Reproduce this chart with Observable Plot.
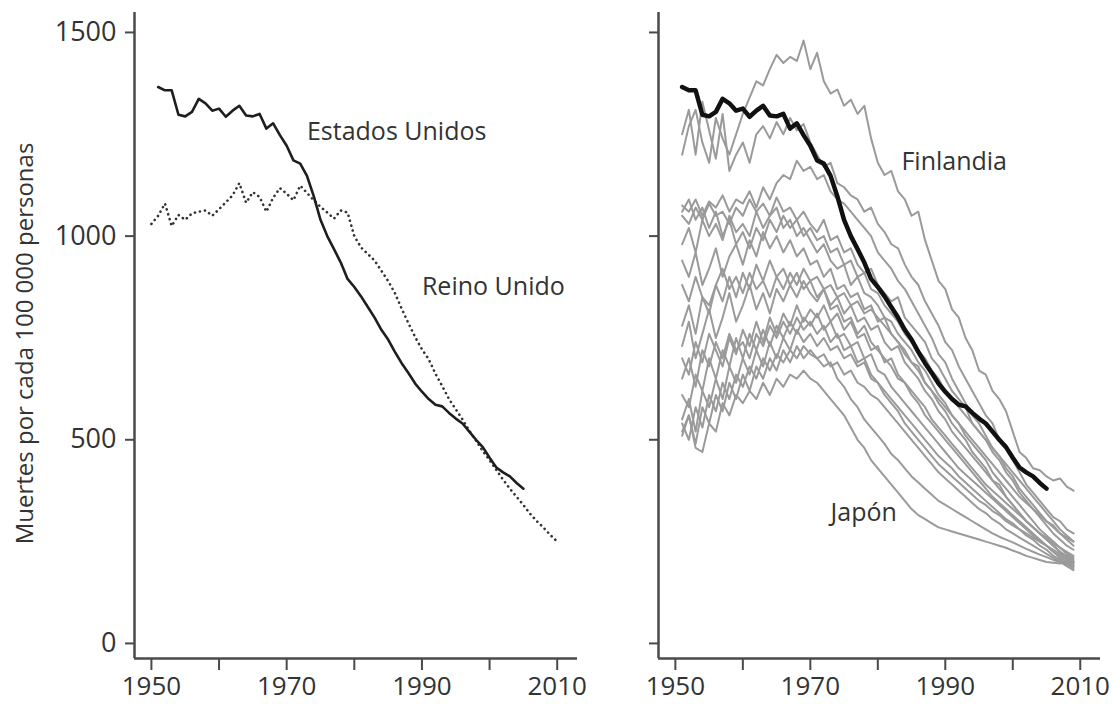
<!DOCTYPE html>
<html>
<head>
<meta charset="utf-8">
<script src="https://cdn.jsdelivr.net/npm/d3@7"></script>
<script src="https://cdn.jsdelivr.net/npm/@observablehq/plot@0.6"></script>
<style>
  html, body { margin: 0; padding: 0; background: #fff; }
  #wrap { position: relative; width: 1112px; height: 704px; overflow: hidden; }
  #wrap svg { position: absolute; left: 0; top: 0; }
  g[aria-label="ytitle"] text { letter-spacing: 0.5px; }
</style>
</head>
<body>
<div id="wrap"></div>
<script>
// ---------- data ----------
const yTitle = "Muertes por cada 100 000 personas";
const yTicks = [0, 500, 1000, 1500];
const xTicks = [1950, 1960, 1970, 1980, 1990, 2000, 2010];
const xLabels = [1950, 1970, 1990, 2010];

const usYears = d3.range(1951, 2006);
const estadosUnidos = [1366, 1358, 1358, 1298, 1294, 1305, 1337, 1326, 1308, 1313,
  1293, 1308, 1320, 1296, 1294, 1300, 1264, 1277, 1248, 1222,
  1186, 1178, 1148, 1098, 1040, 1000, 968, 935, 895, 875,
  852, 826, 800, 770, 746, 716, 688, 664, 638, 618,
  600, 586, 582, 566, 552, 540, 520, 500, 482, 456,
  432, 420, 410, 394, 380];

const ukYears = d3.range(1950, 2011);
const reinoUnido = [1030, 1050, 1080, 1025, 1052, 1040, 1056, 1060, 1063, 1050,
  1066, 1083, 1100, 1130, 1082, 1108, 1096, 1060, 1094, 1118,
  1104, 1088, 1124, 1106, 1088, 1072, 1058, 1043, 1063, 1058,
  1000, 972, 956, 940, 915, 890, 860, 822, 786, 752,
  722, 698, 662, 632, 600, 575, 550, 522, 498, 472,
  450, 426, 402, 380, 360, 340, 318, 300, 284, 266, 250];

const grayYears = d3.range(1951, 2010);
const finlandia = [1200, 1270, 1310, 1230, 1180, 1290, 1240, 1200, 1250, 1300,
  1340, 1380, 1370, 1410, 1445, 1425, 1440, 1430, 1480, 1410,
  1450, 1380, 1350, 1360, 1320, 1335, 1300, 1320, 1240, 1180,
  1150, 1160, 1110, 1090, 1050, 1060, 990, 940, 890, 870,
  820, 800, 750, 720, 670, 660, 620, 600, 570, 520,
  470, 455, 430, 425, 410, 400, 405, 385, 375];
const japon = [510, 560, 480, 470, 540, 520, 590, 560, 610, 590,
  620, 600, 640, 610, 650, 630, 660, 650, 670, 650,
  640, 620, 600, 580, 560, 530, 500, 480, 450, 430,
  410, 390, 370, 350, 330, 315, 305, 295, 285, 280,
  275, 270, 265, 260, 255, 250, 245, 240, 235, 228,
  222, 215, 210, 205, 200, 198, 196, 200, 198];
const otrosPaises = [
  [1250, 1310, 1200, 1330, 1260, 1190, 1300, 1160, 1200, 1230,
   1180, 1250, 1270, 1240, 1280, 1250, 1290, 1260, 1275, 1230,
   1200, 1170, 1180, 1130, 1120, 1100, 1090, 1060, 1070, 1030,
   1010, 980, 970, 930, 900, 880, 840, 810, 780, 740,
   720, 680, 650, 620, 590, 560, 540, 500, 480, 450,
   420, 390, 370, 350, 330, 310, 300, 280, 270],
  [1075, 1060, 1090, 1050, 1085, 1070, 1100, 1060, 1090, 1080,
   1110, 1070, 1120, 1090, 1130, 1150, 1140, 1185, 1160, 1170,
   1140, 1150, 1110, 1090, 1080, 1060, 1040, 1020, 1000, 960,
   940, 920, 890, 870, 840, 810, 780, 750, 710, 690,
   650, 620, 590, 560, 540, 510, 480, 460, 430, 410,
   380, 360, 340, 320, 300, 290, 270, 260, 250],
  [1050, 1030, 1070, 1040, 1080, 1050, 1060, 1030, 1070, 1050,
   1090, 1060, 1080, 1050, 1095, 1060, 1070, 1040, 1060, 1030,
   1010, 1040, 990, 1000, 960, 970, 930, 910, 920, 880,
   860, 840, 850, 800, 780, 760, 740, 700, 680, 650,
   620, 600, 580, 540, 520, 500, 470, 450, 420, 400,
   370, 350, 330, 310, 290, 270, 255, 240, 230],
  [980, 1020, 960, 1040, 1000, 1030, 990, 1050, 1010, 1030,
   1000, 1060, 1020, 1050, 1070, 1020, 1040, 1000, 1020, 990,
   960, 980, 940, 920, 930, 880, 900, 860, 850, 830,
   800, 790, 760, 740, 720, 690, 670, 640, 610, 590,
   560, 540, 510, 490, 470, 450, 420, 400, 380, 360,
   340, 320, 300, 280, 265, 250, 235, 225, 215],
  [940, 900, 960, 880, 920, 970, 900, 950, 980, 930,
   990, 950, 1010, 970, 1000, 960, 990, 950, 970, 930,
   940, 900, 920, 870, 880, 850, 860, 820, 830, 790,
   800, 760, 740, 720, 690, 680, 640, 620, 590, 570,
   540, 520, 500, 470, 450, 430, 400, 390, 360, 340,
   320, 300, 285, 270, 255, 240, 225, 215, 205],
  [780, 830, 760, 850, 810, 880, 840, 900, 850, 910,
   870, 930, 890, 940, 900, 920, 880, 910, 870, 890,
   850, 870, 830, 850, 810, 830, 790, 800, 770, 780,
   740, 720, 730, 690, 670, 650, 620, 600, 570, 550,
   520, 500, 480, 460, 440, 420, 400, 380, 360, 340,
   320, 300, 285, 270, 255, 240, 225, 210, 200],
  [730, 790, 700, 760, 820, 750, 800, 860, 790, 830,
   880, 820, 860, 810, 870, 840, 880, 850, 890, 860,
   840, 870, 820, 830, 790, 800, 760, 780, 740, 720,
   700, 680, 650, 640, 610, 590, 560, 540, 520, 500,
   480, 460, 440, 420, 400, 380, 360, 345, 330, 315,
   300, 285, 270, 255, 240, 225, 210, 200, 190],
  [700, 660, 740, 690, 760, 720, 680, 750, 710, 770,
   730, 790, 740, 800, 760, 810, 780, 830, 790, 820,
   800, 830, 790, 810, 770, 790, 750, 760, 720, 730,
   690, 700, 660, 640, 620, 600, 580, 550, 530, 510,
   490, 470, 450, 430, 410, 390, 375, 360, 345, 330,
   315, 300, 285, 270, 260, 245, 235, 220, 210],
  [610, 580, 660, 620, 700, 650, 720, 680, 750, 700,
   760, 720, 770, 730, 780, 750, 790, 760, 800, 780,
   810, 770, 790, 750, 760, 730, 740, 700, 710, 670,
   660, 630, 610, 590, 570, 550, 530, 510, 490, 470,
   450, 430, 415, 400, 385, 370, 355, 340, 325, 310,
   295, 280, 265, 250, 240, 225, 215, 205, 195],
  [550, 600, 520, 620, 580, 650, 600, 680, 640, 700,
   660, 720, 680, 740, 700, 750, 720, 770, 740, 760,
   730, 750, 720, 730, 700, 710, 680, 690, 650, 640,
   620, 600, 580, 560, 540, 520, 500, 480, 460, 445,
   430, 410, 395, 380, 365, 350, 335, 320, 305, 295,
   280, 265, 255, 240, 230, 215, 205, 195, 185],
  [520, 560, 490, 580, 540, 610, 570, 640, 600, 660,
   620, 680, 650, 700, 670, 720, 690, 730, 700, 720,
   700, 710, 680, 690, 660, 670, 640, 630, 610, 600,
   580, 560, 540, 520, 500, 480, 460, 440, 420, 405,
   390, 375, 360, 345, 330, 320, 305, 295, 280, 270,
   260, 250, 240, 230, 220, 210, 200, 190, 180],
  [540, 500, 580, 530, 610, 570, 640, 600, 660, 630,
   680, 650, 700, 670, 710, 690, 720, 700, 730, 710,
   700, 680, 690, 650, 630, 600, 580, 550, 530, 510,
   490, 465, 450, 430, 410, 395, 380, 365, 350, 340,
   330, 320, 310, 300, 290, 280, 270, 262, 255, 248,
   240, 232, 225, 218, 212, 205, 200, 195, 190],
  [650, 700, 630, 720, 680, 740, 700, 760, 720, 740,
   700, 760, 730, 780, 750, 790, 760, 800, 770, 790,
   760, 780, 740, 760, 720, 730, 690, 700, 660, 640,
   610, 590, 570, 540, 520, 500, 480, 460, 440, 425,
   410, 395, 380, 365, 350, 340, 325, 315, 300, 290,
   280, 270, 260, 250, 240, 230, 220, 210, 200],
  [880, 840, 900, 850, 830, 880, 920, 870, 900, 860,
   910, 870, 890, 850, 900, 870, 910, 880, 920, 890,
   900, 870, 880, 850, 860, 830, 840, 810, 820, 800,
   780, 760, 740, 710, 690, 670, 640, 620, 600, 580,
   560, 540, 520, 500, 480, 460, 440, 420, 400, 380,
   360, 345, 330, 315, 300, 285, 270, 255, 240],
  [1060, 1090, 1040, 1070, 1020, 1060, 1000, 1040, 980, 1010,
   970, 1020, 990, 1040, 1010, 1050, 1020, 1040, 1000, 1020,
   990, 1000, 960, 970, 930, 940, 900, 910, 870, 860,
   830, 810, 790, 760, 740, 720, 700, 670, 650, 620,
   600, 580, 560, 540, 520, 500, 480, 460, 440, 420,
   400, 380, 360, 340, 320, 300, 280, 265, 250]
];

const etiquetasIzq = [
  {texto: "Estados Unidos", year: 1973.0, value: 1255},
  {texto: "Reino Unido", year: 1990.0, value: 874}
];
const etiquetasDer = [
  {texto: "Finlandia", year: 1983.5, value: 1181},
  {texto: "Japón", year: 1973.0, value: 319}
];

// ---------- tables ----------
const toRows = (years, vals, name) => vals.map((v, i) => ({year: years[i], value: v, name}));
const usRows = toRows(usYears, estadosUnidos, "Estados Unidos");
const ukRows = toRows(ukYears, reinoUnido, "Reino Unido");
const grayRows = [
  ...toRows(grayYears, finlandia, "Finlandia"),
  ...toRows(grayYears, japon, "Japón"),
  ...otrosPaises.flatMap((s, k) => toRows(grayYears, s, "p" + k))
];

// ---------- layout ----------
const W = 1112, H = 704;
const xDomain = [1947.5, 2013];
const yDomain = [-37, 1549];
const FONT = "'Open Sans', 'Noto Sans', sans-serif";
const axisColor = "#4a4a4a";
const textColor = "#333";

function panel(left, showY, marks) {
  return Plot.plot({
    width: W, height: H,
    marginLeft: left.ml, marginRight: left.mr, marginTop: 12, marginBottom: 46,
    x: {domain: xDomain},
    y: {domain: yDomain},
    style: {fontFamily: FONT, fontSize: "26px", background: "transparent", overflow: "visible"},
    marks: [
      Plot.axisY({ticks: yTicks, tickSize: 9, tickPadding: 9, stroke: axisColor, strokeWidth: 2,
        fill: textColor, fontSize: 27, label: null,
        tickFormat: showY ? (d => String(d)) : (() => "")}),
      Plot.axisX({ticks: xTicks, tickSize: 12, tickPadding: 6, stroke: axisColor, strokeWidth: 2,
        fill: textColor, fontSize: 26, label: null,
        tickFormat: d => xLabels.includes(d) ? String(d) : ""}),
      Plot.ruleX([xDomain[0]], {stroke: axisColor, strokeWidth: 2.5}),
      Plot.ruleY([yDomain[0]], {stroke: axisColor, strokeWidth: 2.5}),
      ...marks
    ]
  });
}

const leftPlot = panel({ml: 134, mr: W - 577}, true, [
  Plot.lineY(ukRows, {x: "year", y: "value", stroke: "#333", strokeWidth: 2.6,
    strokeDasharray: "0.1,5", strokeLinecap: "round"}),
  Plot.lineY(usRows, {x: "year", y: "value", stroke: "#1e1e1e", strokeWidth: 2.6}),
  Plot.text(etiquetasIzq, {x: "year", y: "value", text: "texto", textAnchor: "start",
    fontSize: 25, fill: textColor}),
  Plot.text([yTitle], {frameAnchor: "left", dx: -109, dy: 8, rotate: -90, text: d => d,
    textAnchor: "middle", lineAnchor: "middle",
    fontSize: 24, fill: textColor, ariaLabel: "ytitle"})
]);

const rightPlot = panel({ml: 658, mr: W - 1100}, false, [
  Plot.lineY(grayRows, {x: "year", y: "value", z: "name", stroke: "#9a9a9a", strokeWidth: 2}),
  Plot.lineY(usRows, {x: "year", y: "value", stroke: "#111", strokeWidth: 4.5}),
  Plot.text(etiquetasDer, {x: "year", y: "value", text: "texto", textAnchor: "start",
    fontSize: 25, fill: textColor})
]);

const wrap = document.getElementById("wrap");
wrap.appendChild(leftPlot);
wrap.appendChild(rightPlot);
</script>
</body>
</html>
